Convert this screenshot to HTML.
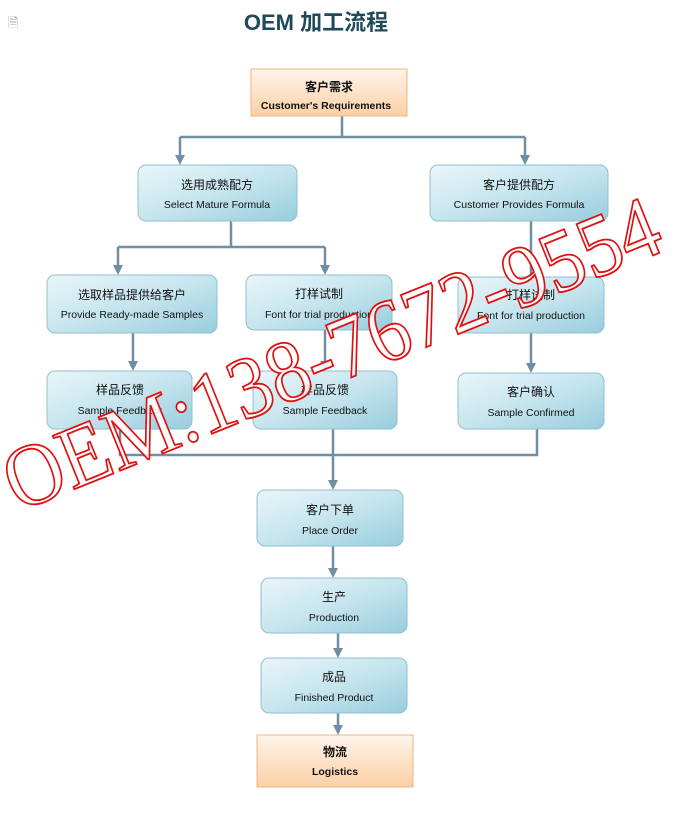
<!DOCTYPE html>
<html><head><meta charset="utf-8"><style>
html,body{margin:0;padding:0;background:#fff;}
svg{display:block;}
.c{font-family:"Liberation Sans","Noto Sans CJK SC",sans-serif;font-size:12px;fill:#111;text-anchor:middle;}
.e{font-family:"Liberation Sans",sans-serif;font-size:10.5px;fill:#111;text-anchor:middle;}
.b{font-weight:bold;}
</style></head><body>
<svg width="682" height="832" viewBox="0 0 682 832" xmlns="http://www.w3.org/2000/svg">
<defs>
<linearGradient id="bl" x1="0" y1="0" x2="1" y2="1">
<stop offset="0" stop-color="#eaf6f9"/><stop offset="0.5" stop-color="#c6e5ee"/><stop offset="1" stop-color="#98cddd"/>
</linearGradient>
<linearGradient id="or" x1="0" y1="0" x2="0" y2="1">
<stop offset="0" stop-color="#fef4ea"/><stop offset="1" stop-color="#fbd0a6"/>
</linearGradient>
</defs>
<text x="8" y="27" font-family="DejaVu Sans" font-size="13" fill="#9aa">🗎</text>
<text x="316" y="30" font-family="Liberation Sans,'Noto Sans CJK SC',sans-serif" font-size="22" font-weight="bold" fill="#1e4a5a" text-anchor="middle">OEM 加工流程</text>

<g stroke="#6f8fa3" stroke-width="2.5" fill="none">
<path d="M342,115 V137 M180,137 H525"/>
<path d="M180,137 V157"/>
<path d="M525,137 V157"/>
<path d="M231,221 V247 M118,247 H325"/>
<path d="M118,247 V267"/>
<path d="M325,247 V267"/>
<path d="M531,221 V277"/>
<path d="M133,333 V363"/>
<path d="M325,330 V363"/>
<path d="M531,333 V365"/>
<path d="M120,429 V455 H537 V429 M333,429 V455"/>
<path d="M333,455 V482"/>
<path d="M333,546 V570"/>
<path d="M338,633 V650"/>
<path d="M338,713 V727"/>
</g>
<g fill="#6f8fa3">
<path d="M175,155 h10 l-5,10z"/>
<path d="M520,155 h10 l-5,10z"/>
<path d="M113,265 h10 l-5,10z"/>
<path d="M320,265 h10 l-5,10z"/>
<path d="M128,361 h10 l-5,10z"/>
<path d="M320,361 h10 l-5,10z"/>
<path d="M526,363 h10 l-5,10z"/>
<path d="M328,480 h10 l-5,10z"/>
<path d="M328,568 h10 l-5,10z"/>
<path d="M333,648 h10 l-5,10z"/>
<path d="M333,725 h10 l-5,10z"/>
</g>

<g stroke="#8fc0d0" stroke-width="1" fill="url(#bl)">
<rect x="138" y="165" width="159" height="56" rx="8"/>
<rect x="430" y="165" width="178" height="56" rx="8"/>
<rect x="47" y="275" width="170" height="58" rx="8"/>
<rect x="246" y="275" width="146" height="55" rx="8"/>
<rect x="458" y="277" width="146" height="56" rx="8"/>
<rect x="47" y="371" width="145" height="58" rx="8"/>
<rect x="253" y="371" width="144" height="58" rx="8"/>
<rect x="458" y="373" width="146" height="56" rx="8"/>
<rect x="257" y="490" width="146" height="56" rx="8"/>
<rect x="261" y="578" width="146" height="55" rx="8"/>
<rect x="261" y="658" width="146" height="55" rx="8"/>
</g>
<g stroke="#f0b47e" stroke-width="1" fill="url(#or)">
<rect x="251" y="69" width="156" height="47"/>
<rect x="257" y="735" width="156" height="52"/>
</g>

<text class="c b" x="329" y="91">客户需求</text><text class="e b" x="326" y="109">Customer's Requirements</text>
<text class="c" x="217" y="189">选用成熟配方</text><text class="e" x="217" y="208">Select Mature Formula</text>
<text class="c" x="519" y="189">客户提供配方</text><text class="e" x="519" y="208">Customer Provides Formula</text>
<text class="c" x="132" y="299">选取样品提供给客户</text><text class="e" x="132" y="318">Provide Ready-made Samples</text>
<text class="c" x="319" y="298">打样试制</text><text class="e" x="319" y="318">Font for trial production</text>
<text class="c" x="531" y="299">打样试制</text><text class="e" x="531" y="319">Font for trial production</text>
<text class="c" x="120" y="394">样品反馈</text><text class="e" x="120" y="414">Sample Feedback</text>
<text class="c" x="325" y="394">样品反馈</text><text class="e" x="325" y="414">Sample Feedback</text>
<text class="c" x="531" y="396">客户确认</text><text class="e" x="531" y="416">Sample Confirmed</text>
<text class="c" x="330" y="514">客户下单</text><text class="e" x="330" y="534">Place Order</text>
<text class="c" x="334" y="601">生产</text><text class="e" x="334" y="621">Production</text>
<text class="c" x="334" y="681">成品</text><text class="e" x="334" y="701">Finished Product</text>
<text class="c b" x="335" y="756">物流</text><text class="e b" x="335" y="775">Logistics</text>

<text x="0" y="0" transform="translate(18,512) rotate(-22)" font-family="Liberation Serif,serif" font-size="88" fill="#fff" fill-opacity="0.85" stroke="#e01010" stroke-width="1.8" textLength="700" lengthAdjust="spacingAndGlyphs">OEM:138-7672-9554</text>
</svg>
</body></html>
